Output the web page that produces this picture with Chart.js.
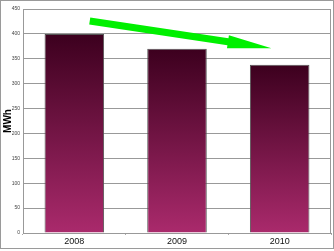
<!DOCTYPE html>
<html>
<head>
    <title>MWh per year</title>
    <script src="https://cdn.jsdelivr.net/npm/chart.js"></script>
    <style>
        body { margin: 0; background: #fff; }
        #wrap { width: 334px; height: 251px; position: relative; }
    </style>
</head>
<body>
    <div id="wrap"><canvas id="mwh-chart" width="334" height="251"></canvas></div>

    <script>
        // data
        const years = ['2008', '2009', '2010'];
        const mwh = [400, 370, 338];
        const yTicks = [0, 50, 100, 150, 200, 250, 300, 350, 400, 450];
        // trend arrow, in data units: [category index, value]
        const arrowFrom = [0.15, 426];
        const arrowTo = [1.92, 371];

        function barGradient(context) {
            const chart = context.chart;
            const yScale = chart.scales.y;
            if (!chart.chartArea || !yScale || context.parsed === undefined) return '#6a1440';
            const top = yScale.getPixelForValue(context.parsed.y);
            const bottom = yScale.getPixelForValue(0);
            const g = chart.ctx.createLinearGradient(0, top, 0, bottom);
            g.addColorStop(0, '#3c001e');
            g.addColorStop(1, '#aa2a6c');
            return g;
        }

        // outer frame, plot frame and the green trend arrow
        const decorations = {
            id: 'decorations',
            beforeDraw(chart) {
                const ctx = chart.ctx;
                ctx.save();
                ctx.strokeStyle = '#9a9a9a';
                ctx.lineWidth = 1;
                ctx.strokeRect(0.5, 0.5, chart.width - 1, chart.height - 3);
                ctx.restore();
            },
            afterDatasetsDraw(chart) {
                const ctx = chart.ctx;
                const a = chart.chartArea;
                ctx.save();
                ctx.strokeStyle = '#9a9a9a';
                ctx.lineWidth = 1;
                ctx.beginPath();
                ctx.moveTo(a.left, a.top + 0.5);
                ctx.lineTo(a.right - 0.5, a.top + 0.5);
                ctx.lineTo(a.right - 0.5, a.bottom);
                ctx.stroke();

                const xs = chart.scales.x, ys = chart.scales.y;
                const x1 = xs.getPixelForValue(arrowFrom[0]), y1 = ys.getPixelForValue(arrowFrom[1]);
                const x2 = xs.getPixelForValue(arrowTo[0]), y2 = ys.getPixelForValue(arrowTo[1]);
                const ang = Math.atan2(y2 - y1, x2 - x1);
                const len = Math.hypot(x2 - x1, y2 - y1);
                ctx.translate(x1, y1);
                ctx.rotate(ang);
                const head = 44, shaft = 3.6, wing = 6.5;
                ctx.fillStyle = '#00f000';
                ctx.beginPath();
                ctx.moveTo(0, -shaft);
                ctx.lineTo(len - head, -shaft);
                ctx.lineTo(len - head, -wing);
                ctx.lineTo(len, 0);
                ctx.lineTo(len - head, wing);
                ctx.lineTo(len - head, shaft);
                ctx.lineTo(0, shaft);
                ctx.closePath();
                ctx.fill();
                ctx.restore();
            }
        };

        new Chart(document.getElementById('mwh-chart'), {
            type: 'bar',
            data: {
                labels: years,
                datasets: [{
                    data: mwh,
                    backgroundColor: barGradient,
                    borderColor: '#555',
                    borderWidth: 1,
                    barPercentage: 0.58,
                    categoryPercentage: 1
                }]
            },
            options: {
                responsive: false,
                animation: false,
                layout: { padding: { left: 2, right: 3, top: 9, bottom: 3 } },
                plugins: { legend: { display: false }, tooltip: { enabled: false } },
                scales: {
                    x: {
                        grid: { display: true, drawOnChartArea: false, tickLength: 2, color: '#aaa' },
                        border: { display: true, color: '#999' },
                        ticks: { color: '#111', font: { family: 'Arial, Liberation Sans', size: 9 }, padding: 1 },
                        afterFit(scale) { scale.height = 15; }
                    },
                    y: {
                        min: 0,
                        max: 450,
                        afterBuildTicks(scale) { scale.ticks = yTicks.map(v => ({ value: v })); },
                        grid: { color: '#999', drawTicks: false },
                        border: { display: true, color: '#999' },
                        ticks: { color: '#444', font: { family: 'Arial, Liberation Sans', size: 5 }, padding: 3 },
                        title: {
                            display: true,
                            text: 'MWh',
                            color: '#000',
                            font: { family: 'Arial, Liberation Sans', size: 10, weight: 'bold' },
                            padding: 0
                        },
                        afterFit(scale) { scale.width = 21; }
                    }
                }
            },
            plugins: [decorations]
        });
    </script>
</body>
</html>
